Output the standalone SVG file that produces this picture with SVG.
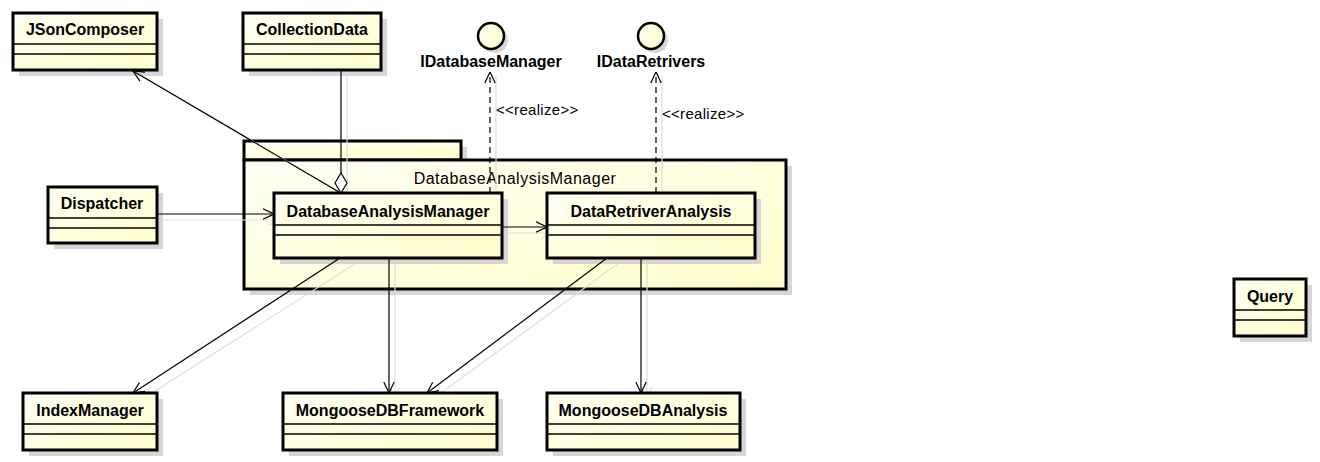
<svg xmlns="http://www.w3.org/2000/svg" width="1320" height="462" viewBox="0 0 1320 462">
<defs>
<linearGradient id="fill" x1="0" y1="0" x2="1" y2="1">
<stop offset="0" stop-color="#FFFFF4"/>
<stop offset="1" stop-color="#FFFFCC"/>
</linearGradient>
<marker id="open" viewBox="0 0 12 12" refX="11.5" refY="6" markerWidth="12" markerHeight="12" markerUnits="userSpaceOnUse" orient="auto">
<path d="M0.5,0.8 L11.5,6 L0.5,11.2" fill="none" stroke="#000" stroke-width="1.2"/>
</marker>
<marker id="openg" viewBox="0 0 12 12" refX="11.5" refY="6" markerWidth="12" markerHeight="12" markerUnits="userSpaceOnUse" orient="auto">
<path d="M0.5,0.8 L11.5,6 L0.5,11.2" fill="none" stroke="#DDD" stroke-width="1.2"/>
</marker>
</defs>
<style>
.box{fill:url(#fill);stroke:#000;stroke-width:3}
.sh{fill:#D6D6D6;stroke:none}
.sep{stroke:#000;stroke-width:1.3}
.name{font-family:"Liberation Sans",Arial,sans-serif;font-size:16px;font-weight:bold;text-anchor:middle;fill:#000}
.pkg{font-family:"Liberation Sans",Arial,sans-serif;font-size:16px;letter-spacing:0.5px;text-anchor:middle;fill:#000}
.lbl{font-family:"Liberation Sans",Arial,sans-serif;font-size:15px;letter-spacing:0.3px;fill:#000}
.c{fill:none;stroke:#000;stroke-width:1.2}
.cs{fill:none;stroke:#DDDDDD;stroke-width:1.2}
.d{stroke-dasharray:6,4}
</style>
<rect width="1320" height="462" fill="#fff"/>

<g id="pkg-DatabaseAnalysisManager">
<rect class="sh" x="250" y="147" width="217" height="19"/>
<rect class="sh" x="250" y="166" width="542" height="129"/>
<rect class="box" x="244" y="141" width="217" height="19"/>
<rect class="box" x="244" y="160" width="542" height="129"/>
<text class="pkg" x="515" y="184">DatabaseAnalysisManager</text>
</g>

<g id="connector-shadows">
<line class="cs" x1="346" y1="196" x2="139" y2="74"/>
<line class="cs" x1="347" y1="70" x2="347" y2="196"/>
<line class="cs" x1="157" y1="220" x2="280" y2="220" marker-end="url(#openg)"/>
<line class="cs" x1="502" y1="233" x2="553" y2="233" marker-end="url(#openg)"/>
<line class="cs" x1="496" y1="193" x2="496" y2="76"/>
<line class="cs" x1="662" y1="193" x2="662" y2="76"/>
<line class="cs" x1="358" y1="262" x2="144" y2="398" marker-end="url(#openg)"/>
<line class="cs" x1="395" y1="258" x2="395" y2="398" marker-end="url(#openg)"/>
<line class="cs" x1="620" y1="262" x2="434" y2="398" marker-end="url(#openg)"/>
<line class="cs" x1="647" y1="258" x2="647" y2="398" marker-end="url(#openg)"/>
</g>

<g id="JSonComposer">
<rect class="sh" x="19" y="19" width="144" height="57"/>
<rect class="box" x="13" y="13" width="144" height="57"/>
<line class="sep" x1="13" y1="44" x2="157" y2="44"/>
<line class="sep" x1="13" y1="54" x2="157" y2="54"/>
<text class="name" x="85" y="35">JSonComposer</text>
</g>

<g id="CollectionData">
<rect class="sh" x="249" y="19" width="138" height="57"/>
<rect class="box" x="243" y="13" width="138" height="57"/>
<line class="sep" x1="243" y1="44" x2="381" y2="44"/>
<line class="sep" x1="243" y1="54" x2="381" y2="54"/>
<text class="name" x="312" y="35">CollectionData</text>
</g>

<g id="IDatabaseManager">
<circle cx="495" cy="40" r="13" fill="#D6D6D6"/>
<circle cx="491" cy="36" r="13" fill="url(#fill)" stroke="#000" stroke-width="2.5"/>
<text class="name" x="491" y="67">IDatabaseManager</text>
</g>

<g id="IDataRetrivers">
<circle cx="655" cy="40" r="13" fill="#D6D6D6"/>
<circle cx="651" cy="36" r="13" fill="url(#fill)" stroke="#000" stroke-width="2.5"/>
<text class="name" x="651" y="67">IDataRetrivers</text>
</g>

<g id="Dispatcher">
<rect class="sh" x="54" y="193" width="109" height="56"/>
<rect class="box" x="48" y="187" width="109" height="56"/>
<line class="sep" x1="48" y1="218" x2="157" y2="218"/>
<line class="sep" x1="48" y1="228" x2="157" y2="228"/>
<text class="name" x="102" y="209">Dispatcher</text>
</g>

<g id="DatabaseAnalysisManager">
<rect class="sh" x="280" y="199" width="228" height="65"/>
<rect class="box" x="274" y="193" width="228" height="65"/>
<line class="sep" x1="274" y1="225" x2="502" y2="225"/>
<line class="sep" x1="274" y1="235" x2="502" y2="235"/>
<text class="name" x="388" y="217">DatabaseAnalysisManager</text>
</g>

<g id="DataRetriverAnalysis">
<rect class="sh" x="553" y="199" width="208" height="65"/>
<rect class="box" x="547" y="193" width="208" height="65"/>
<line class="sep" x1="547" y1="225" x2="755" y2="225"/>
<line class="sep" x1="547" y1="235" x2="755" y2="235"/>
<text class="name" x="651" y="217">DataRetriverAnalysis</text>
</g>

<g id="IndexManager">
<rect class="sh" x="29" y="399" width="134" height="57"/>
<rect class="box" x="23" y="393" width="134" height="57"/>
<line class="sep" x1="23" y1="424" x2="157" y2="424"/>
<line class="sep" x1="23" y1="434" x2="157" y2="434"/>
<text class="name" x="90" y="416">IndexManager</text>
</g>

<g id="MongooseDBFramework">
<rect class="sh" x="289" y="399" width="214" height="57"/>
<rect class="box" x="283" y="393" width="214" height="57"/>
<line class="sep" x1="283" y1="424" x2="497" y2="424"/>
<line class="sep" x1="283" y1="434" x2="497" y2="434"/>
<text class="name" x="390" y="416">MongooseDBFramework</text>
</g>

<g id="MongooseDBAnalysis">
<rect class="sh" x="553" y="399" width="193" height="57"/>
<rect class="box" x="547" y="393" width="193" height="57"/>
<line class="sep" x1="547" y1="424" x2="740" y2="424"/>
<line class="sep" x1="547" y1="434" x2="740" y2="434"/>
<text class="name" x="643" y="416">MongooseDBAnalysis</text>
</g>

<g id="Query">
<rect class="sh" x="1240" y="285" width="72" height="57"/>
<rect class="box" x="1234" y="279" width="72" height="57"/>
<line class="sep" x1="1234" y1="310" x2="1306" y2="310"/>
<line class="sep" x1="1234" y1="320" x2="1306" y2="320"/>
<text class="name" x="1270" y="302">Query</text>
</g>

<g id="connectors">
<line class="c" x1="339" y1="192" x2="133" y2="71" marker-end="url(#open)"/>
<line class="c" x1="341" y1="70" x2="341" y2="173"/>
<polygon points="341,173 347,183 341,193 335,183" fill="#fff" stroke="#000" stroke-width="1.2"/>
<line class="c" x1="157" y1="214" x2="274" y2="214" marker-end="url(#open)"/>
<line class="c" x1="502" y1="227" x2="547" y2="227" marker-end="url(#open)"/>
<line class="c d" x1="490" y1="193" x2="490" y2="72" marker-end="url(#open)"/>
<text class="lbl" x="496" y="115">&lt;&lt;realize&gt;&gt;</text>
<line class="c d" x1="656" y1="193" x2="656" y2="72" marker-end="url(#open)"/>
<text class="lbl" x="662" y="119">&lt;&lt;realize&gt;&gt;</text>
<line class="c" x1="340" y1="258" x2="133" y2="393" marker-end="url(#open)"/>
<line class="c" x1="389" y1="258" x2="389" y2="393" marker-end="url(#open)"/>
<line class="c" x1="607" y1="258" x2="427" y2="393" marker-end="url(#open)"/>
<line class="c" x1="641" y1="258" x2="641" y2="393" marker-end="url(#open)"/>
</g>
</svg>
